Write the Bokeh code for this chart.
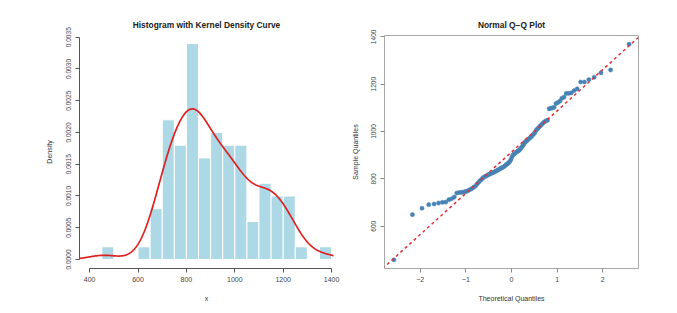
import numpy as np
from statistics import NormalDist
from bokeh.plotting import figure
from bokeh.layouts import row
from bokeh.models import FixedTicker, PrintfTickFormatter, Range1d, Slope
from bokeh.embed import file_html
from bokeh.resources import INLINE

# ---------------- data ----------------
sample_values = [
    458,
    649,
    676, 691, 694, 698,
    701, 702, 712, 716, 723, 740, 742, 743, 744, 746, 748,
    752, 756, 760, 765, 770, 778, 785, 792, 797,
    804, 808, 811, 814, 817, 820, 822, 825, 827, 830, 832, 835, 838, 841, 844, 846, 849,
    852, 856, 860, 864, 868, 873, 882, 893,
    902, 906, 910, 914, 917, 920, 925, 932, 938, 945,
    954, 958, 963, 968, 972, 977, 983, 988, 995,
    1005, 1011, 1017, 1023, 1029, 1036, 1041, 1045, 1048,
    1096, 1098, 1100,
    1102, 1118, 1122, 1128, 1140, 1145,
    1161, 1161, 1163, 1173, 1180,
    1209, 1209, 1219, 1229, 1248,
    1260,
    1369,
]
bin_edges = [450, 500, 550, 600, 650, 700, 750, 800, 850, 900, 950, 1000,
             1050, 1100, 1150, 1200, 1250, 1300, 1350, 1400]
hist_density = [0.0002, 0.0, 0.0, 0.0002, 0.0008, 0.0022, 0.0018, 0.0034, 0.0016,
                0.0020, 0.0018, 0.0018, 0.0006, 0.0012, 0.0010, 0.0010, 0.0002,
                0.0, 0.0002]
hist_x_ticks = [400, 600, 800, 1000, 1200, 1400]
hist_y_ticks = [0.0, 0.0005, 0.0010, 0.0015, 0.0020, 0.0025, 0.0030, 0.0035]
qq_x_ticks = [-2, -1, 0, 1, 2]
qq_x_labels = {-2: "\u22122", -1: "\u22121", 0: "0", 1: "1", 2: "2"}
qq_y_ticks = [600, 800, 1000, 1200, 1400]

FONT = "Liberation Sans"

# ---------------- derived statistics ----------------
xs = np.array(sample_values, dtype=float)
n = len(xs)
q1, q3 = np.percentile(xs, [25, 75])
sd = xs.std(ddof=1)
bw = 0.9 * min(sd, (q3 - q1) / 1.34) * n ** (-0.2)
grid = np.linspace(350, 1420, 600)
kde = np.exp(-0.5 * ((grid[:, None] - xs[None, :]) / bw) ** 2).sum(axis=1) / (n * bw * np.sqrt(2 * np.pi))

nd = NormalDist()
theo = np.array([nd.inv_cdf((i - 0.5) / n) for i in range(1, n + 1)])
z25, z75 = nd.inv_cdf(0.25), nd.inv_cdf(0.75)
qq_slope = (q3 - q1) / (z75 - z25)
qq_int = q1 - qq_slope * z25


def ext(lo, hi):
    d = (hi - lo) * 0.04
    return lo - d, hi + d


def style_common(p):
    p.toolbar_location = None
    p.xgrid.visible = False
    p.ygrid.visible = False
    p.background_fill_color = "white"
    p.border_fill_color = "white"
    p.title.text_font = FONT
    p.title.text_font_style = "bold"
    p.title.text_font_size = "8.4px"
    p.title.text_color = "#222222"
    p.title.align = "center"
    p.title.standoff = 12
    for ax in (p.xaxis[0], p.yaxis[0]):
        ax.major_label_text_font = FONT
        ax.axis_label_text_font = FONT
        ax.axis_label_text_font_style = "normal"
        ax.major_label_text_color = "#444444"
        ax.axis_label_text_color = "#333333"
        ax.minor_tick_line_color = None
        ax.major_tick_in = 0
        ax.major_tick_out = 4
        ax.major_label_standoff = 4
    p.xaxis[0].major_label_text_font_size = "7px"
    p.xaxis[0].axis_label_text_font_size = "7px"
    p.yaxis[0].major_label_text_font_size = "6.6px"
    p.yaxis[0].axis_label_text_font_size = "7px"
    p.yaxis[0].major_label_orientation = "vertical"
    p.xaxis[0].axis_label_standoff = 10


# ---------------- left: histogram ----------------
# the visible part of the y scale runs from 0 to 0.0035; frame padded below and above
p1 = figure(width=344, height=305, output_backend="svg", toolbar_location=None,
            title="Histogram with Kernel Density Curve",
            x_range=Range1d(358, 1408), y_range=Range1d(-0.0001415, 0.003527),
            min_border_left=79, min_border_right=11, min_border_top=35, min_border_bottom=37,
            x_axis_label="x", y_axis_label="Density")
p1.outline_line_color = None
style_common(p1)

p1.quad(left=bin_edges[:-1], right=bin_edges[1:], bottom=0, top=hist_density,
        fill_color="#ADD8E6", line_color="white", line_width=1)
p1.line(grid, kde, line_color="#DD2020", line_width=1.7)

p1.xaxis[0].ticker = FixedTicker(ticks=hist_x_ticks)
p1.xaxis[0].bounds = (400, 1400)
p1.yaxis[0].ticker = FixedTicker(ticks=hist_y_ticks)
p1.yaxis[0].bounds = (0, 0.0035)
p1.yaxis[0].formatter = PrintfTickFormatter(format="%.4f")
for ax in (p1.xaxis[0], p1.yaxis[0]):
    ax.axis_line_color = "#555555"
    ax.major_tick_line_color = "#555555"
p1.yaxis[0].axis_label_standoff = 11

# ---------------- right: Q-Q plot ----------------
xr2 = ext(theo.min(), theo.max())
yr2 = ext(xs.min(), xs.max())
p2 = figure(width=325, height=305, output_backend="svg", toolbar_location=None,
            title="Normal Q\u2212Q Plot",
            x_range=Range1d(*xr2), y_range=Range1d(*yr2),
            min_border_left=40, min_border_right=31, min_border_top=35, min_border_bottom=37,
            x_axis_label="Theoretical Quantiles", y_axis_label="Sample Quantiles")
style_common(p2)
p2.outline_line_color = "#a8a8a8"
p2.outline_line_width = 1

p2.add_layout(Slope(gradient=qq_slope, y_intercept=qq_int, line_color="#E0303A",
                    line_width=1.5, line_dash="3 3"))
p2.scatter(theo, xs, size=4.2, fill_color="#4682B4", line_color="#4682B4", line_width=0.5)

p2.xaxis[0].ticker = FixedTicker(ticks=qq_x_ticks)
p2.xaxis[0].major_label_overrides = qq_x_labels
p2.yaxis[0].ticker = FixedTicker(ticks=qq_y_ticks)
for ax in (p2.xaxis[0], p2.yaxis[0]):
    ax.axis_line_color = None
    ax.major_tick_line_color = "#888888"
p2.yaxis[0].axis_label_standoff = 10

layout = row(p1, p2)
open("out.html", "w").write(file_html(layout, INLINE))
